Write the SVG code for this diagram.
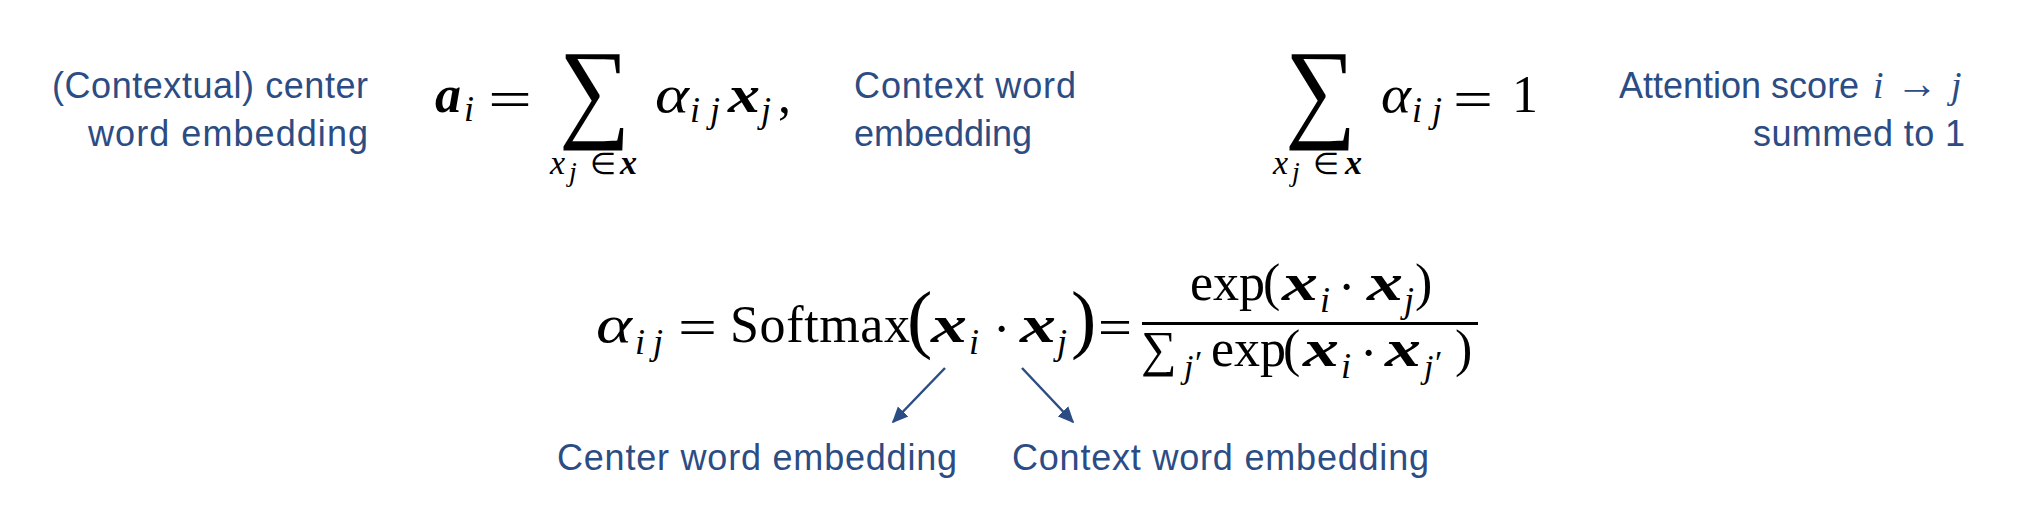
<svg xmlns="http://www.w3.org/2000/svg" width="2044" height="524" viewBox="0 0 2044 524">
<style>
.lbl{font-family:"Liberation Sans",Arial,sans-serif;font-size:36px;fill:#2C4C84}
.m{font-family:"Liberation Serif","Times New Roman",serif;font-size:52px;fill:#000}
.blue{fill:#2C4C84}
.mi{font-style:italic}
.mb{font-style:italic;font-weight:bold}
.s{font-size:36px}
.sp{font-size:34px}
.ss{font-size:28px}
.lm{font-size:34px}
.el{font-size:30px}
.big{font-size:76px}
.conn{stroke:#2C4C84;stroke-width:2.5;fill:none}
</style>
<defs>
<marker id="ah" viewBox="0 0 10 10" refX="9" refY="5" markerWidth="6.5" markerHeight="6.5" orient="auto" markerUnits="strokeWidth">
<path d="M0,0.5 L10,5 L0,9.5 z" fill="#2C4C84"/>
</marker>
</defs>
<rect width="2044" height="524" fill="#fff"/>

<g id="label-center-contextual">
<text class="lbl" x="52" y="98" textLength="316">(Contextual) center</text>
<text class="lbl" x="88" y="146" textLength="280">word embedding</text>
</g>

<g id="eq-attention-sum">
<text class="m mb" x="435" y="112">a</text>
<text class="m mi s" x="464" y="121">i</text>
<text class="m" x="488" y="117" textLength="44" lengthAdjust="spacingAndGlyphs">=</text>
<text class="m" style="font-size:111px" transform="translate(559,127) scale(0.9,1)">∑</text>
<text class="m mi" x="655" y="112" textLength="34" lengthAdjust="spacingAndGlyphs">α</text>
<text class="m mi s" x="690" y="122" textLength="30">ij</text>
<text class="m mb" x="728" y="112" textLength="32" lengthAdjust="spacingAndGlyphs">x</text>
<text class="m mi s" x="761" y="122">j</text>
<text class="m" x="778" y="112">,</text>
<text class="m mi lm" x="550" y="174">x</text>
<text class="m mi ss" x="569" y="181">j</text>
<text class="m el" x="590" y="174">∈</text>
<text class="m mb lm" x="620" y="174">x</text>
</g>

<g id="label-context-word">
<text class="lbl" x="854" y="98" textLength="222">Context word</text>
<text class="lbl" x="854" y="146">embedding</text>
</g>

<g id="eq-sum-to-one">
<text class="m" style="font-size:111px" transform="translate(1285,127) scale(0.9,1)">∑</text>
<text class="m mi" x="1381" y="112" textLength="30" lengthAdjust="spacingAndGlyphs">α</text>
<text class="m mi s" x="1412" y="122" textLength="30">ij</text>
<text class="m" x="1453" y="117" textLength="40" lengthAdjust="spacingAndGlyphs">=</text>
<text class="m" x="1512" y="112">1</text>
<text class="m mi lm" x="1273" y="174">x</text>
<text class="m mi ss" x="1292" y="181">j</text>
<text class="m el" x="1313" y="174">∈</text>
<text class="m mb lm" x="1345" y="174">x</text>
</g>

<g id="label-attention-score">
<text class="lbl" x="1619" y="98">Attention score</text>
<text class="m mi blue" x="1873" y="98" style="font-size:38px">i</text>
<text class="m blue" x="1896" y="98" style="font-size:44px" textLength="42" lengthAdjust="spacingAndGlyphs">→</text>
<text class="m mi blue" x="1951" y="98" style="font-size:38px">j</text>
<text class="lbl" x="1753" y="146" textLength="212">summed to 1</text>
</g>

<g id="eq-softmax">
<text class="m mi" x="596" y="342" textLength="36" lengthAdjust="spacingAndGlyphs">α</text>
<text class="m mi s" x="635" y="354" textLength="28">ij</text>
<text class="m" x="678" y="345" textLength="39" lengthAdjust="spacingAndGlyphs">=</text>
<text class="m" x="730" y="342" textLength="180">Softmax</text>
<text class="m big" x="907" y="344">(</text>
<text class="m mb" x="931" y="342" textLength="36" lengthAdjust="spacingAndGlyphs">x</text>
<text class="m mi s" x="969" y="354">i</text>
<text class="m" x="993" y="346">·</text>
<text class="m mb" x="1020" y="342" textLength="36" lengthAdjust="spacingAndGlyphs">x</text>
<text class="m mi s" x="1057" y="354">j</text>
<text class="m big" x="1071" y="344">)</text>
<text class="m" x="1098" y="345" textLength="34" lengthAdjust="spacingAndGlyphs">=</text>
<rect x="1142" y="322" width="336" height="3" fill="#000"/>
<text class="m" x="1190" y="300">exp</text>
<text class="m" x="1263" y="300">(</text>
<text class="m mb" x="1282" y="300" textLength="36" lengthAdjust="spacingAndGlyphs">x</text>
<text class="m mi s" x="1320" y="312">i</text>
<text class="m" x="1338" y="304">·</text>
<text class="m mb" x="1367" y="300" textLength="36" lengthAdjust="spacingAndGlyphs">x</text>
<text class="m mi s" x="1404" y="312">j</text>
<text class="m" x="1415" y="300">)</text>
<text class="m" x="1141" y="366" style="font-size:50px">∑</text>
<text class="m mi sp" x="1184" y="378">j</text>
<text class="m sp" x="1195" y="374">′</text>
<text class="m" x="1211" y="366">exp</text>
<text class="m" x="1283" y="366">(</text>
<text class="m mb" x="1303" y="366" textLength="36" lengthAdjust="spacingAndGlyphs">x</text>
<text class="m mi s" x="1341" y="378">i</text>
<text class="m" x="1360" y="370">·</text>
<text class="m mb" x="1385" y="366" textLength="36" lengthAdjust="spacingAndGlyphs">x</text>
<text class="m mi sp" x="1424" y="378">j</text>
<text class="m sp" x="1435" y="374">′</text>
<text class="m" x="1455" y="366">)</text>
</g>

<g id="connectors">
<line class="conn" x1="945" y1="368" x2="893" y2="422" marker-end="url(#ah)"/>
<line class="conn" x1="1022" y1="368" x2="1073" y2="422" marker-end="url(#ah)"/>
</g>

<g id="label-center-word">
<text class="lbl" x="557" y="470" textLength="400">Center word embedding</text>
</g>
<g id="label-context-word-bottom">
<text class="lbl" x="1012" y="470" textLength="417">Context word embedding</text>
</g>
</svg>
